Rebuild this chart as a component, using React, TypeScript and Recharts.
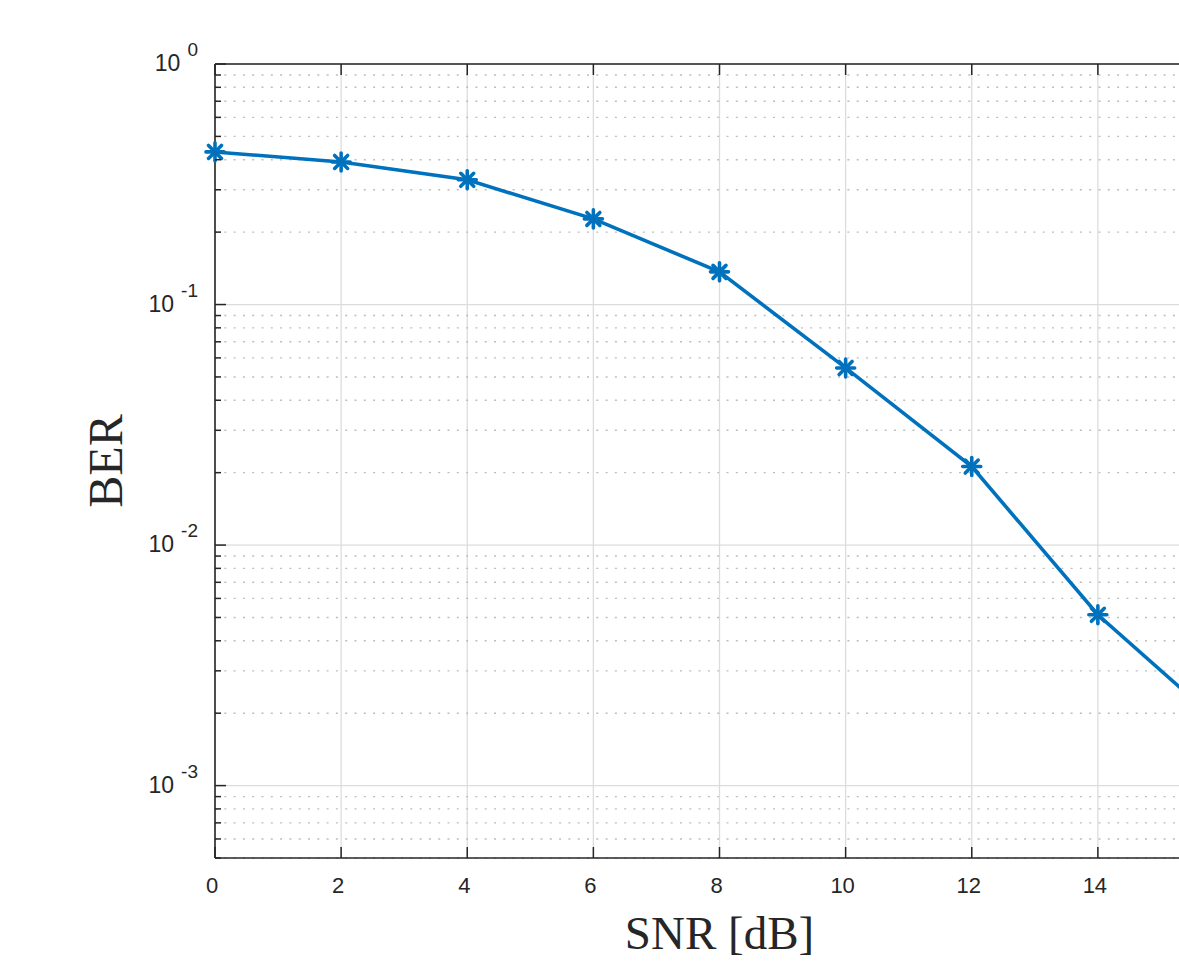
import React from 'react';
import { LineChart, Line, XAxis, YAxis, CartesianGrid } from 'recharts';

// SNR points (dB) and measured BER
const snr = [0, 2, 4, 6, 8, 10, 12, 14, 16];
const ber = [0.431, 0.3915, 0.33, 0.227, 0.1367, 0.0545, 0.0212, 0.00513, 0.00176];

const xTicks = [0, 2, 4, 6, 8, 10, 12, 14, 16];
const xLabelTicks = [0, 2, 4, 6, 8, 10, 12, 14];
const majorY = [0.001, 0.01, 0.1, 1];
const minorY = [
  0.0005, 0.0006, 0.0007, 0.0008, 0.0009,
  0.002, 0.003, 0.004, 0.005, 0.006, 0.007, 0.008, 0.009,
  0.02, 0.03, 0.04, 0.05, 0.06, 0.07, 0.08, 0.09,
  0.2, 0.3, 0.4, 0.5, 0.6, 0.7, 0.8, 0.9,
];
const yExponents = ['0', '-1', '-2', '-3'];

const data = snr.map((s, i) => ({ snr: s, ber: ber[i] }));

const AXIS = '#262626';
const BLUE = '#0072BD';
const SANS = '"Liberation Sans", Arial, Helvetica, sans-serif';
const SERIF = '"Liberation Serif", "Times New Roman", serif';

const BottomTick = ({ x, y, payload }: any) => (
  <g>
    <line x1={x} x2={x} y1={y} y2={y - 11} stroke={AXIS} strokeWidth={1.5} />
    <text x={x - 3} y={y + 35} textAnchor="middle" fontSize={22} fill={AXIS} fontFamily={SANS}>
      {payload.value}
    </text>
  </g>
);

const TopTick = ({ x, y }: any) => (
  <line x1={x} x2={x} y1={y} y2={y + 11} stroke={AXIS} strokeWidth={1.5} />
);

const LeftTick = ({ x, y, payload }: any) => {
  const v = payload.value;
  const idx = majorY.indexOf(v);
  if (idx < 0) {
    return <line x1={x} x2={x + 6} y1={y} y2={y} stroke={AXIS} strokeWidth={1.5} />;
  }
  const exp = String(Math.round(Math.log10(v)));
  return (
    <g>
      <line x1={x} x2={x + 11} y1={y} y2={y} stroke={AXIS} strokeWidth={1.5} />
      <text x={x - 17} y={y + 7} textAnchor="end" fill={AXIS} fontFamily={SANS} fontSize={23}>
        10
        <tspan dx={7} dy={-15} fontSize={19}>{yExponents.find(e => e === exp)}</tspan>
      </text>
    </g>
  );
};

const Star = ({ cx, cy }: any) => {
  const r = 9;
  const d = r * 0.72;
  return (
    <g stroke={BLUE} strokeWidth={3.6} strokeLinecap="round">
      <line x1={cx - r} x2={cx + r} y1={cy} y2={cy} />
      <line x1={cx} x2={cx} y1={cy - r} y2={cy + r} />
      <line x1={cx - d} x2={cx + d} y1={cy - d} y2={cy + d} />
      <line x1={cx - d} x2={cx + d} y1={cy + d} y2={cy - d} />
    </g>
  );
};

const xLabel = ({ viewBox }: any) => (
  <text
    x={viewBox.x + viewBox.width / 2}
    y={viewBox.y + 91}
    textAnchor="middle"
    fontFamily={SERIF}
    fontSize={47}
    fill={AXIS}
  >
    SNR [dB]
  </text>
);

const yLabel = ({ viewBox }: any) => {
  const x = viewBox.x + 122;
  const y = viewBox.y + viewBox.height / 2;
  return (
    <text x={x} y={y} transform={`rotate(-90 ${x} ${y})`} textAnchor="middle" fontFamily={SERIF} fontSize={48} fill={AXIS}>
      BER
    </text>
  );
};

export default function App() {
  return (
    <div style={{ position: 'absolute', left: 0, top: 0, width: 1179, height: 961, overflow: 'hidden', background: '#fff' }}>
      <LineChart width={1260} height={961} data={data} margin={{ top: 0, right: 36, bottom: 0, left: 0 }}>
        <CartesianGrid
          xAxisId="bottom"
          stroke="#dcdcdc"
          strokeWidth={1.3}
          horizontalValues={majorY}
          verticalValues={xTicks}
        />
        <CartesianGrid
          xAxisId="bottom"
          stroke="#bdbdbd"
          strokeWidth={1.4}
          strokeDasharray="2 7.3"
          vertical={false}
          horizontalValues={minorY}
        />
        <XAxis
          xAxisId="bottom"
          dataKey="snr"
          type="number"
          domain={[0, 16]}
          ticks={xLabelTicks}
          interval={0}
          height={103}
          tickSize={0}
          tickMargin={0}
          tickLine={false}
          tick={<BottomTick />}
          axisLine={{ stroke: AXIS, strokeWidth: 1.6 }}
          label={xLabel}
        />
        <XAxis
          xAxisId="top"
          orientation="top"
          dataKey="snr"
          type="number"
          domain={[0, 16]}
          ticks={xTicks}
          interval={0}
          height={64}
          tickSize={0}
          tickMargin={0}
          tickLine={false}
          tick={<TopTick />}
          axisLine={{ stroke: AXIS, strokeWidth: 1.6 }}
        />
        <YAxis
          type="number"
          scale="log"
          domain={[0.0005, 1]}
          allowDataOverflow
          ticks={[...minorY, ...majorY]}
          interval={0}
          width={215}
          tickSize={0}
          tickMargin={0}
          tickLine={false}
          tick={<LeftTick />}
          axisLine={{ stroke: AXIS, strokeWidth: 1.6 }}
          label={yLabel}
        />
        <Line
          xAxisId="bottom"
          type="linear"
          dataKey="ber"
          stroke={BLUE}
          strokeWidth={3.6}
          dot={(p: any) => <Star key={`s-${p.index}`} cx={p.cx} cy={p.cy} />}
          activeDot={false}
          isAnimationActive={false}
        />
      </LineChart>
    </div>
  );
}
